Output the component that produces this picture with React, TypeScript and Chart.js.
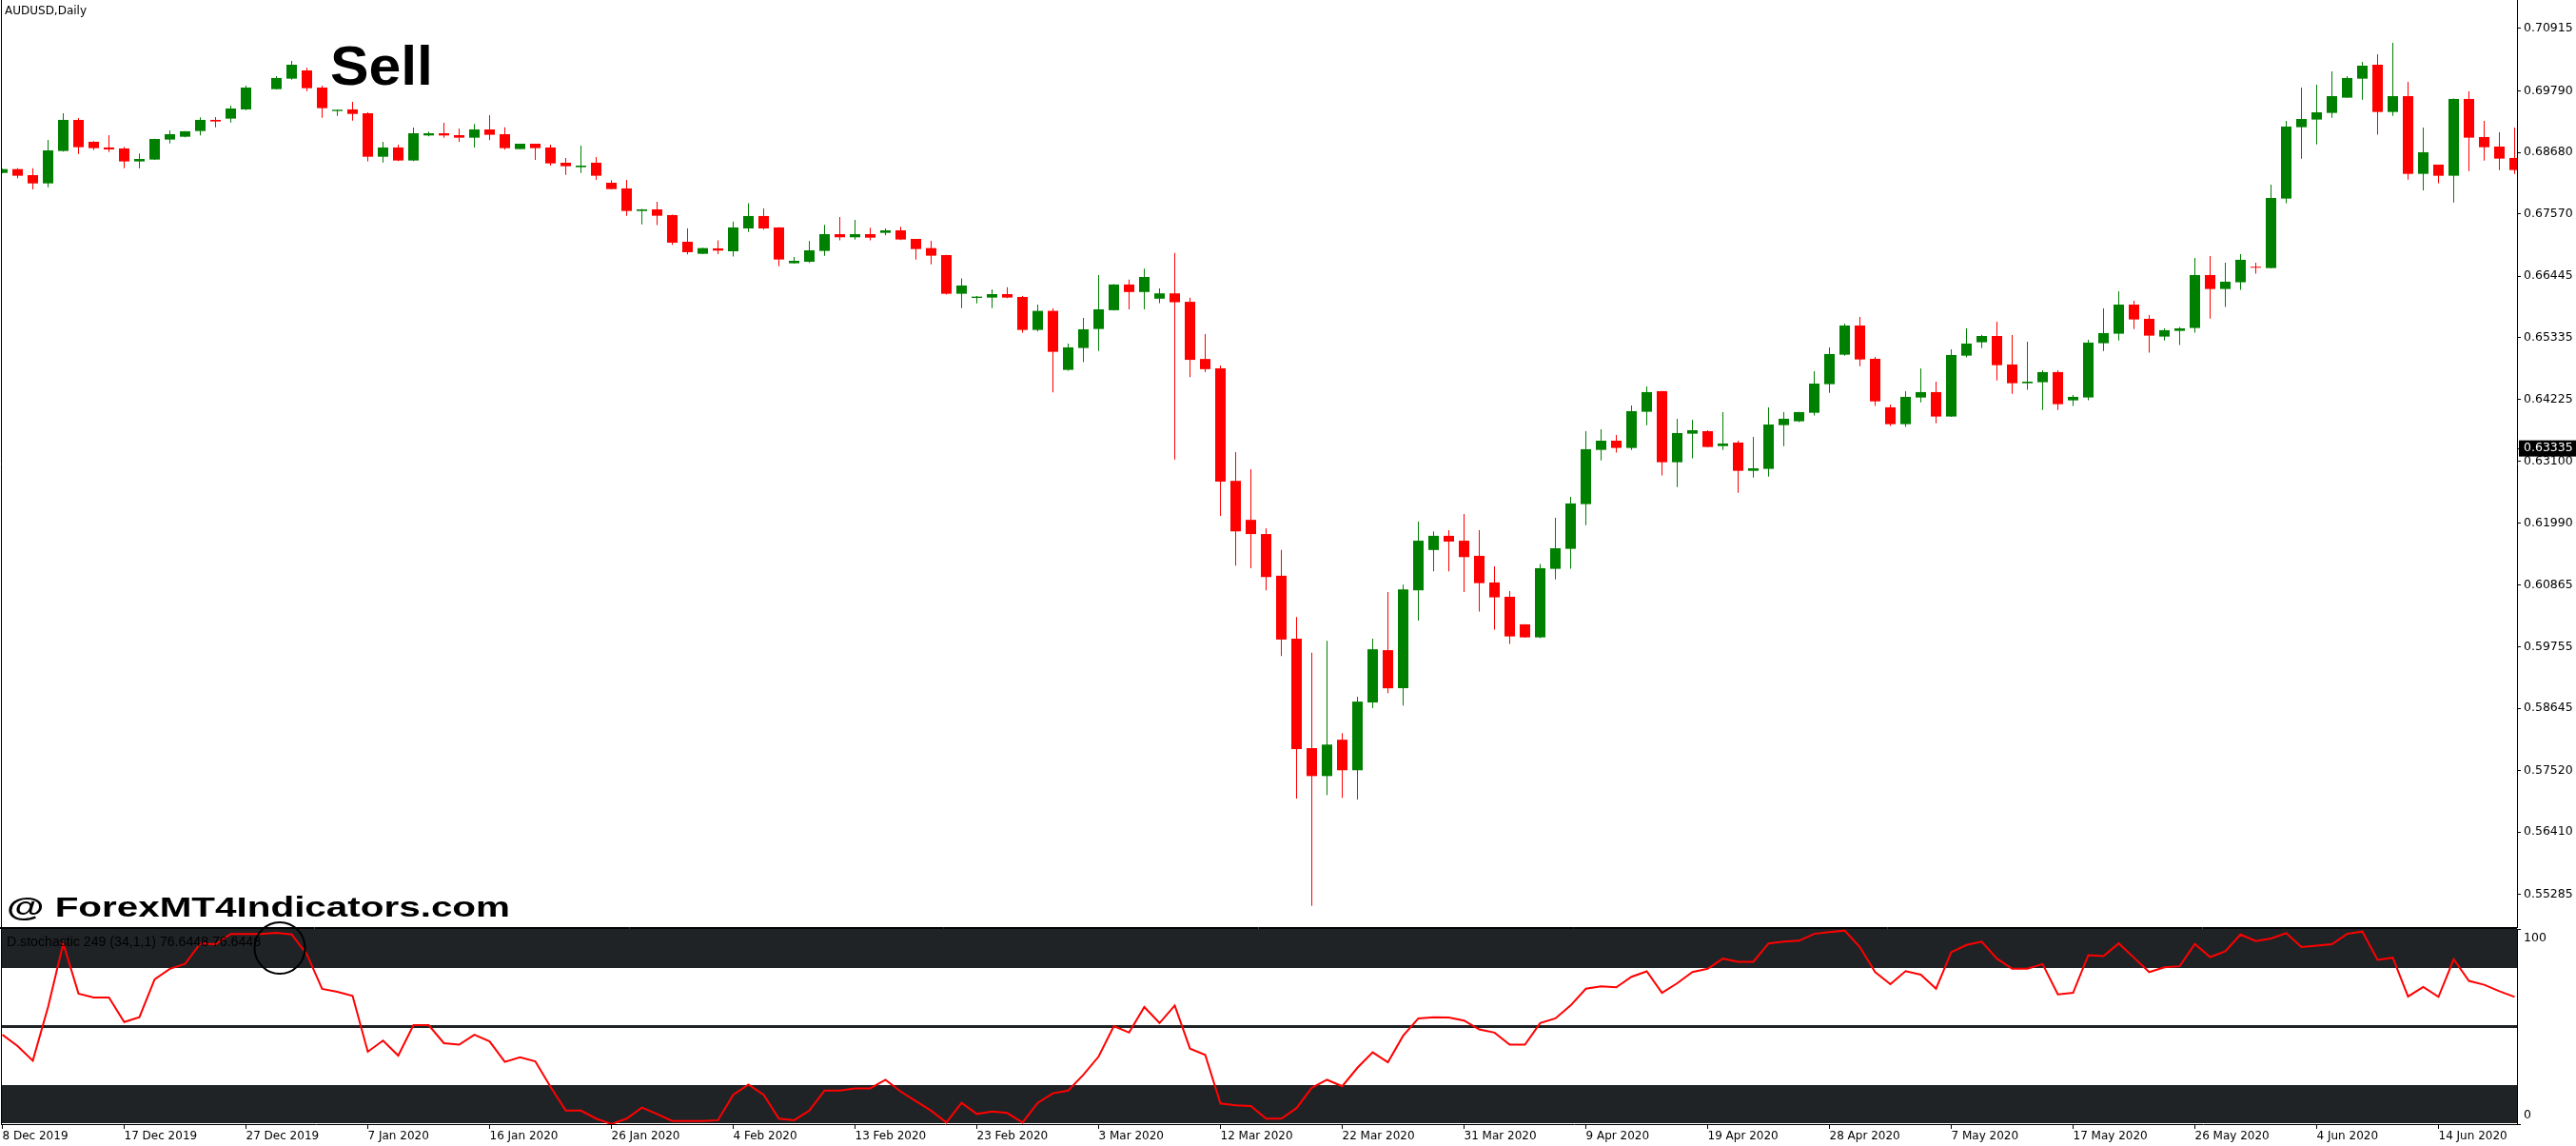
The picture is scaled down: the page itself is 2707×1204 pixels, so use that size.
import React, { useEffect, useRef } from 'react';
import { Chart, registerables } from 'chart.js';

Chart.register(...registerables);

// ---------------- data ----------------
const symbolTitle = 'AUDUSD,Daily';
const indicatorTitle = 'D.stochastic 249 (34,1,1) 76.6448 76.6448';
const signalText = 'Sell';
const watermarkText = '@ ForexMT4Indicators.com';

const opens = [
  0.68308, 0.68377, 0.68268, 0.68119, 0.68704, 0.69265, 0.68870, 0.68767, 0.68749, 0.68515,
  0.68549, 0.68910, 0.68961, 0.69064, 0.69265, 0.69288, 0.69454, null, 0.69820, 0.70009,
  0.70158, 0.69849, 0.69425, 0.69454, 0.69385, 0.68600, 0.68767, 0.68532, 0.68984, 0.69024,
  0.68990, 0.68944, 0.69093, 0.69007, 0.68738, 0.68835, 0.68767, 0.68492, 0.68412, 0.68492,
  0.68131, 0.68028, 0.67621, 0.67650, 0.67547, 0.67066, 0.66848, 0.66946, 0.66894, 0.67306,
  0.67530, 0.67324, 0.66677, 0.66705, 0.66900, 0.67203, 0.67146, 0.67203, 0.67226, 0.67272,
  0.67117, 0.66951, 0.66825, 0.66127, 0.66052, 0.66058, 0.66121, 0.66070, 0.65474, 0.65818,
  0.64753, 0.65148, 0.65491, 0.65830, 0.66294, 0.66158, 0.66038, 0.66134, 0.65982, 0.64950,
  0.64782, 0.62750, 0.62046, 0.61790, 0.61038, 0.59902, 0.57926, 0.57422, 0.58078, 0.57526,
  0.58750, 0.59694, 0.59006, 0.60774, 0.61502, 0.61758, 0.61670, 0.61397, 0.60916, 0.60658,
  0.60160, 0.59925, 0.61162, 0.61523, 0.62330, 0.63309, 0.63475, 0.63344, 0.63997, 0.64369,
  0.63086, 0.63601, 0.63647, 0.63378, 0.63441, 0.62931, 0.62966, 0.63756, 0.63825, 0.63979,
  0.64495, 0.65027, 0.65554, 0.64953, 0.64077, 0.63773, 0.64254, 0.64352, 0.63911, 0.65010,
  0.65251, 0.65365, 0.64850, 0.64512, 0.64530, 0.64713, 0.64203, 0.64255, 0.65234, 0.65406,
  0.65932, 0.65675, 0.65354, 0.65457, 0.65509, 0.66465, 0.66213, 0.66334, 0.66602, 0.66591,
  0.67845, 0.69133, 0.69271, 0.69391, 0.69666, 0.70009, 0.70261, 0.69408, 0.69694, 0.68291,
  0.68458, 0.68257, 0.69643, 0.68956, 0.68784, 0.68578,
];

const highs = [
  0.68383, 0.68394, 0.68394, 0.68904, 0.69385, 0.69299, 0.68881, 0.68990, 0.68778, 0.68658,
  0.68927, 0.69076, 0.69064, 0.69310, 0.69316, 0.69522, 0.69883, null, 0.70055, 0.70330,
  0.70204, 0.69883, 0.69454, 0.69591, 0.69402, 0.68870, 0.68818, 0.69127, 0.69053, 0.69213,
  0.69110, 0.69190, 0.69351, 0.69133, 0.68835, 0.68835, 0.68818, 0.68578, 0.68801, 0.68595,
  0.68177, 0.68182, 0.67656, 0.67787, 0.67553, 0.67306, 0.66957, 0.67089, 0.67432, 0.67759,
  0.67667, 0.67329, 0.66791, 0.67077, 0.67369, 0.67513, 0.67461, 0.67318, 0.67306, 0.67335,
  0.67117, 0.67083, 0.66831, 0.66402, 0.66087, 0.66207, 0.66247, 0.66087, 0.65932, 0.65863,
  0.65228, 0.65692, 0.66466, 0.66302, 0.66382, 0.66582, 0.66222, 0.66862, 0.66054, 0.65398,
  0.64830, 0.63270, 0.62958, 0.61894, 0.61502, 0.60294, 0.59646, 0.59862, 0.58198, 0.58854,
  0.59902, 0.60742, 0.60878, 0.62014, 0.61838, 0.61862, 0.62150, 0.61861, 0.61208, 0.60761,
  0.60165, 0.61248, 0.62084, 0.62462, 0.63647, 0.63682, 0.63578, 0.64111, 0.64455, 0.64374,
  0.63871, 0.63853, 0.63664, 0.63991, 0.63475, 0.63544, 0.64077, 0.63991, 0.63995, 0.64729,
  0.65159, 0.65588, 0.65709, 0.64987, 0.64128, 0.64369, 0.64781, 0.64540, 0.65125, 0.65502,
  0.65388, 0.65623, 0.65383, 0.65262, 0.64747, 0.64747, 0.64301, 0.65297, 0.65864, 0.66173,
  0.66001, 0.65744, 0.65503, 0.65526, 0.66774, 0.66808, 0.66688, 0.66843, 0.66688, 0.68097,
  0.69248, 0.69849, 0.69901, 0.70141, 0.70055, 0.70313, 0.70450, 0.70656, 0.69952, 0.69128,
  0.68458, 0.69649, 0.69780, 0.69248, 0.69042, 0.69128,
];

const lows = [
  0.68303, 0.68211, 0.68011, 0.68051, 0.68692, 0.68652, 0.68721, 0.68686, 0.68394, 0.68394,
  0.68543, 0.68841, 0.68950, 0.68984, 0.69133, 0.69219, 0.69442, null, 0.69814, 0.69992,
  0.69786, 0.69305, 0.69339, 0.69253, 0.68515, 0.68497, 0.68520, 0.68520, 0.68967, 0.68944,
  0.68870, 0.68767, 0.68898, 0.68726, 0.68738, 0.68543, 0.68440, 0.68274, 0.68308, 0.68182,
  0.68011, 0.67535, 0.67381, 0.67364, 0.67009, 0.66837, 0.66843, 0.66843, 0.66797, 0.67243,
  0.67283, 0.66625, 0.66671, 0.66682, 0.66814, 0.67089, 0.67106, 0.67089, 0.67180, 0.67095,
  0.66745, 0.66659, 0.66110, 0.65869, 0.65955, 0.65869, 0.66047, 0.65423, 0.65445, 0.64346,
  0.64736, 0.64890, 0.65095, 0.65825, 0.65846, 0.65846, 0.65958, 0.63134, 0.64622, 0.64710,
  0.62118, 0.61222, 0.61174, 0.60774, 0.59590, 0.57014, 0.55078, 0.57078, 0.57030, 0.56998,
  0.58646, 0.58918, 0.58694, 0.60230, 0.61118, 0.61118, 0.60742, 0.60389, 0.60063, 0.59805,
  0.59920, 0.59908, 0.60973, 0.61162, 0.61952, 0.63120, 0.63258, 0.63309, 0.63756, 0.62846,
  0.62639, 0.63155, 0.63355, 0.63309, 0.62536, 0.62811, 0.62828, 0.63378, 0.63808, 0.63928,
  0.64340, 0.65010, 0.64821, 0.64100, 0.63739, 0.63722, 0.64168, 0.63790, 0.63905, 0.64976,
  0.65147, 0.64563, 0.64323, 0.64392, 0.64031, 0.64031, 0.64100, 0.64203, 0.65096, 0.65285,
  0.65491, 0.65062, 0.65285, 0.65200, 0.65423, 0.65680, 0.65887, 0.66196, 0.66488, 0.66585,
  0.67759, 0.68566, 0.68824, 0.69305, 0.69660, 0.69631, 0.68996, 0.69339, 0.68188, 0.67994,
  0.68120, 0.67776, 0.68343, 0.68532, 0.68360, 0.68291,
];

const closes = [
  0.68377, 0.68257, 0.68119, 0.68715, 0.69265, 0.68772, 0.68755, 0.68732, 0.68515, 0.68560,
  0.68921, 0.69007, 0.69059, 0.69265, 0.69236, 0.69471, 0.69849, null, 0.70021, 0.70261,
  0.69837, 0.69477, 0.69448, 0.69373, 0.68600, 0.68767, 0.68532, 0.69024, 0.69024, 0.68984,
  0.68944, 0.69093, 0.68996, 0.68755, 0.68835, 0.68755, 0.68480, 0.68429, 0.68440, 0.68257,
  0.68016, 0.67621, 0.67650, 0.67535, 0.67049, 0.66877, 0.66951, 0.66906, 0.67324, 0.67530,
  0.67306, 0.66745, 0.66722, 0.66911, 0.67203, 0.67146, 0.67203, 0.67140, 0.67272, 0.67106,
  0.66934, 0.66814, 0.66127, 0.66276, 0.66075, 0.66121, 0.66058, 0.65474, 0.65818, 0.65079,
  0.65159, 0.65486, 0.65846, 0.66294, 0.66158, 0.66430, 0.66134, 0.65974, 0.64934, 0.64766,
  0.62734, 0.61838, 0.61790, 0.61014, 0.59886, 0.57910, 0.57422, 0.57990, 0.57526, 0.58766,
  0.59710, 0.59006, 0.60790, 0.61670, 0.61758, 0.61654, 0.61374, 0.60904, 0.60647, 0.59942,
  0.59925, 0.61174, 0.61534, 0.62342, 0.63321, 0.63475, 0.63344, 0.64008, 0.64352, 0.63086,
  0.63613, 0.63664, 0.63361, 0.63424, 0.62931, 0.62977, 0.63767, 0.63871, 0.63991, 0.64506,
  0.65039, 0.65554, 0.64941, 0.64185, 0.63773, 0.64266, 0.64352, 0.63911, 0.65021, 0.65228,
  0.65365, 0.64838, 0.64512, 0.64541, 0.64713, 0.64134, 0.64266, 0.65245, 0.65417, 0.65932,
  0.65663, 0.65371, 0.65469, 0.65503, 0.66465, 0.66213, 0.66345, 0.66740, 0.66597, 0.67856,
  0.69145, 0.69282, 0.69402, 0.69694, 0.70021, 0.70244, 0.69408, 0.69694, 0.68291, 0.68681,
  0.68257, 0.69643, 0.68944, 0.68772, 0.68566, 0.68360,
];

const stochD = [
  45.8, 40.0, 32.5, 60.0, 92.6, 66.9, 64.9, 64.9, 52.3, 54.8,
  74.2, 79.6, 82.1, 92.6, 92.2, 97.5, 97.5, 97.5, 98.0, 97.2,
  87.0, 69.3, 67.8, 65.7, 37.1, 42.8, 35.1, 50.7, 50.7, 41.5,
  40.7, 45.8, 42.4, 31.9, 34.3, 32.2, 19.1, 6.9, 6.9, 2.8,
  0.0, 2.8, 8.5, 5.2, 1.6, 1.6, 1.6, 2.0, 15.0, 20.3,
  15.0, 2.8, 2.0, 6.9, 17.2, 17.2, 18.3, 18.3, 22.7, 16.7,
  11.8, 6.9, 0.8, 10.9, 5.2, 6.5, 5.7, 0.8, 10.9, 15.8,
  17.2, 25.3, 34.6, 50.2, 46.9, 60.0, 51.8, 60.8, 38.7, 35.5,
  10.6, 9.6, 9.3, 2.8, 2.8, 8.2, 18.6, 22.7, 19.4, 28.9,
  36.8, 31.7, 45.3, 54.2, 54.7, 54.6, 53.1, 48.5, 46.9, 40.7,
  40.7, 51.8, 54.2, 60.8, 69.4, 70.6, 70.1, 75.5, 78.3, 67.3,
  72.2, 77.9, 79.6, 84.8, 83.2, 83.2, 92.6, 93.5, 94.0, 97.5,
  98.4, 99.2, 90.7, 77.9, 71.7, 78.4, 76.6, 69.4, 88.1, 91.8,
  93.5, 84.8, 79.6, 79.6, 82.0, 66.5, 67.3, 86.6, 86.1, 92.6,
  85.3, 77.9, 80.4, 80.9, 92.3, 85.6, 88.6, 97.2, 93.8, 95.1,
  97.9, 90.7, 91.5, 92.2, 97.5, 98.7, 84.2, 85.3, 65.4, 70.3,
  65.2, 84.5, 73.4, 71.4, 68.1, 65.2,
];

const dateLabels = [
  '8 Dec 2019', '17 Dec 2019', '27 Dec 2019', '7 Jan 2020', '16 Jan 2020', '26 Jan 2020',
  '4 Feb 2020', '13 Feb 2020', '23 Feb 2020', '3 Mar 2020', '12 Mar 2020', '22 Mar 2020',
  '31 Mar 2020', '9 Apr 2020', '19 Apr 2020', '28 Apr 2020', '7 May 2020', '17 May 2020',
  '26 May 2020', '4 Jun 2020', '14 Jun 2020',
];
const barsPerDateLabel = 8;

const priceTicks = [
  0.70915, 0.69790, 0.68680, 0.67570, 0.66445, 0.65335, 0.64225, 0.63100,
  0.61990, 0.60865, 0.59755, 0.58645, 0.57520, 0.56410, 0.55285,
];
const lastPriceMarker = 0.63335;

const stochUpper = 80;
const stochMiddle = 50;
const stochLower = 20;

// ---------------- layout / style ----------------
const W = 2707;
const H = 1204;
const MAIN_H = 975;
const SUB_TOP = 975;
const SUB_H = 229;
const AXIS_W = 62;
const X_MIN = -0.03125;
const X_MAX = 165.15625;
const Y_MIN = 0.54696;
const Y_MAX = 0.71429;
const UP = '#008000';
const DOWN = '#ff0000';
const BAND = '#202326';
const FONT = 'DejaVu Sans';

Chart.defaults.font.family = FONT;

const mainFrame = {
  id: 'mainFrame',
  afterDraw(chart: any) {
    const { ctx, chartArea } = chart;
    ctx.save();
    ctx.strokeStyle = '#000';
    ctx.lineWidth = 1;
    ctx.beginPath();
    ctx.moveTo(1.5, 0);
    ctx.lineTo(1.5, chartArea.bottom + 1);
    ctx.moveTo(0, chartArea.bottom + 0.5);
    ctx.lineTo(chartArea.right, chartArea.bottom + 0.5);
    ctx.stroke();
    ctx.restore();
  },
};

const stochBands = {
  id: 'stochBands',
  beforeDatasetsDraw(chart: any) {
    const { ctx, chartArea: a, scales } = chart;
    const y = scales.y;
    const w = a.right - a.left;
    ctx.save();
    ctx.fillStyle = BAND;
    const y100 = y.getPixelForValue(100);
    const yU = y.getPixelForValue(stochUpper);
    const yL = y.getPixelForValue(stochLower);
    const y0 = y.getPixelForValue(0);
    const yM = y.getPixelForValue(stochMiddle);
    ctx.fillRect(a.left, y100, w, yU - y100);
    ctx.fillRect(a.left, yL, w, y0 - yL - 1);
    ctx.fillRect(a.left, yM - 1.5, w, 3);
    ctx.restore();
  },
  afterDraw(chart: any) {
    const { ctx, chartArea } = chart;
    ctx.save();
    ctx.strokeStyle = '#000';
    ctx.lineWidth = 1;
    ctx.beginPath();
    ctx.moveTo(1.5, 0);
    ctx.lineTo(1.5, chartArea.bottom + 1);
    ctx.moveTo(0, 0.5);
    ctx.lineTo(chartArea.right, 0.5);
    ctx.stroke();
    ctx.restore();
  },
};

export default function App() {
  const mainRef = useRef<HTMLCanvasElement>(null);
  const subRef = useRef<HTMLCanvasElement>(null);

  useEffect(() => {
    const idx: number[] = [];
    opens.forEach((o, i) => {
      if (o !== null) idx.push(i);
    });
    const colors = idx.map((i) => ((closes[i] as number) > (opens[i] as number) ? UP : DOWN));
    const bodies = idx.map((i) => ({ x: i, y: [opens[i], closes[i]] }));
    const wicks = idx.map((i) => ({ x: i, y: [lows[i], highs[i]] }));

    const main = new Chart(mainRef.current as HTMLCanvasElement, {
      type: 'bar',
      data: {
        datasets: [
          {
            data: bodies as any,
            backgroundColor: colors,
            barThickness: 11,
            grouped: false,
            minBarLength: 1,
            inflateAmount: 0,
            borderWidth: 0,
            order: 0,
          } as any,
          {
            data: wicks as any,
            backgroundColor: colors,
            barThickness: 1,
            grouped: false,
            inflateAmount: 0,
            borderWidth: 0,
            order: 1,
          } as any,
        ],
      },
      options: {
        responsive: false,
        animation: false,
        devicePixelRatio: 1,
        events: [],
        layout: { padding: { left: 2, right: 0, top: 0, bottom: 1 } },
        plugins: { legend: { display: false }, tooltip: { enabled: false } },
        scales: {
          x: {
            type: 'linear',
            min: X_MIN,
            max: X_MAX,
            offset: false,
            grid: { offset: false },
            display: false,
          },
          y: {
            type: 'linear',
            position: 'right',
            min: Y_MIN,
            max: Y_MAX,
            border: { display: true, color: '#000', width: 1 },
            grid: { display: true, drawOnChartArea: false, drawTicks: true, tickLength: 4, color: '#000' },
            ticks: {
              autoSkip: false,
              padding: 3,
              font: { family: FONT, size: 12.5 },
              color: (c: any) => (c.tick && c.tick.value === lastPriceMarker ? '#fff' : '#000'),
              showLabelBackdrop: (c: any) => !!(c.tick && c.tick.value === lastPriceMarker),
              backdropColor: '#000',
              backdropPadding: { top: 1, bottom: 1, left: 5, right: 10 },
              callback: (v: any) => Number(v).toFixed(5),
            },
            afterBuildTicks: (scale: any) => {
              scale.ticks = [...priceTicks, lastPriceMarker].map((v) => ({ value: v }));
            },
            afterFit: (scale: any) => {
              scale.width = AXIS_W;
              scale.paddingTop = 0;
              scale.paddingBottom = 0;
            },
          } as any,
        },
      },
      plugins: [mainFrame],
    } as any);

    const sub = new Chart(subRef.current as HTMLCanvasElement, {
      type: 'line',
      data: {
        datasets: [
          {
            data: stochD.map((v, i) => ({ x: i, y: v })),
            borderColor: DOWN,
            borderWidth: 2,
            pointRadius: 0,
            tension: 0,
            fill: false,
          },
        ],
      },
      options: {
        responsive: false,
        animation: false,
        devicePixelRatio: 1,
        events: [],
        layout: { padding: { left: 2, right: 0, top: 1, bottom: 0 } },
        plugins: { legend: { display: false }, tooltip: { enabled: false } },
        scales: {
          x: {
            type: 'linear',
            min: X_MIN,
            max: X_MAX,
            offset: false,
            position: 'bottom',
            border: { display: true, color: '#000', width: 1 },
            grid: { display: true, drawOnChartArea: false, drawTicks: true, tickLength: 5, color: '#000' },
            ticks: {
              autoSkip: false,
              maxRotation: 0,
              minRotation: 0,
              align: 'start',
              padding: 1,
              color: '#000',
              font: { family: FONT, size: 12 },
              callback: (v: any) => dateLabels[Math.round(Number(v) / barsPerDateLabel)] ?? '',
            },
            afterBuildTicks: (scale: any) => {
              scale.ticks = dateLabels.map((_, k) => ({ value: k * barsPerDateLabel }));
            },
            afterFit: (scale: any) => {
              scale.height = 23;
              scale.paddingLeft = 0;
              scale.paddingRight = 0;
            },
          } as any,
          y: {
            type: 'linear',
            position: 'right',
            min: 0,
            max: 100,
            border: { display: true, color: '#000', width: 1 },
            grid: { display: true, drawOnChartArea: false, drawTicks: true, tickLength: 4, color: '#000' },
            ticks: {
              autoSkip: false,
              padding: 3,
              color: '#000',
              font: { family: FONT, size: 12.5, lineHeight: 1.5 },
              callback: (v: any) => (Number(v) === 100 ? ['', '100'] : ['0', '']),
            },
            afterBuildTicks: (scale: any) => {
              scale.ticks = [{ value: 0 }, { value: 100 }];
            },
            afterFit: (scale: any) => {
              scale.width = AXIS_W;
              scale.paddingTop = 0;
              scale.paddingBottom = 0;
            },
          } as any,
        },
      },
      plugins: [stochBands],
    } as any);

    return () => {
      main.destroy();
      sub.destroy();
    };
  }, []);

  return (
    <div style={{ position: 'absolute', left: 0, top: 0, width: W, height: H, background: '#fff', overflow: 'hidden' }}>
      <canvas
        ref={mainRef}
        width={W}
        height={MAIN_H}
        style={{ position: 'absolute', left: 0, top: 0, width: W, height: MAIN_H }}
      />
      <canvas
        ref={subRef}
        width={W}
        height={SUB_H}
        style={{ position: 'absolute', left: 0, top: SUB_TOP, width: W, height: SUB_H }}
      />
      <svg
        width={W}
        height={H}
        style={{ position: 'absolute', left: 0, top: 0, pointerEvents: 'none' }}
      >
        <text x={5} y={15} fontFamily={FONT} fontSize={12} fill="#000">
          {symbolTitle}
        </text>
        <text
          x={347}
          y={89}
          fontFamily="Liberation Sans"
          fontWeight="bold"
          fontSize={57}
          textLength={108}
          lengthAdjust="spacingAndGlyphs"
          fill="#000"
        >
          {signalText}
        </text>
        <text
          x={7}
          y={963}
          fontFamily="Liberation Sans"
          fontWeight="bold"
          fontSize={30}
          textLength={529}
          lengthAdjust="spacingAndGlyphs"
          fill="#000"
        >
          {watermarkText}
        </text>
        <text
          x={7}
          y={994}
          fontFamily="Liberation Sans"
          fontSize={14}
          textLength={267}
          lengthAdjust="spacingAndGlyphs"
          fill="#000"
        >
          {indicatorTitle}
        </text>
        <ellipse cx={294} cy={996} rx={26.5} ry={27} fill="none" stroke="#000" strokeWidth={2} />
      </svg>
    </div>
  );
}
